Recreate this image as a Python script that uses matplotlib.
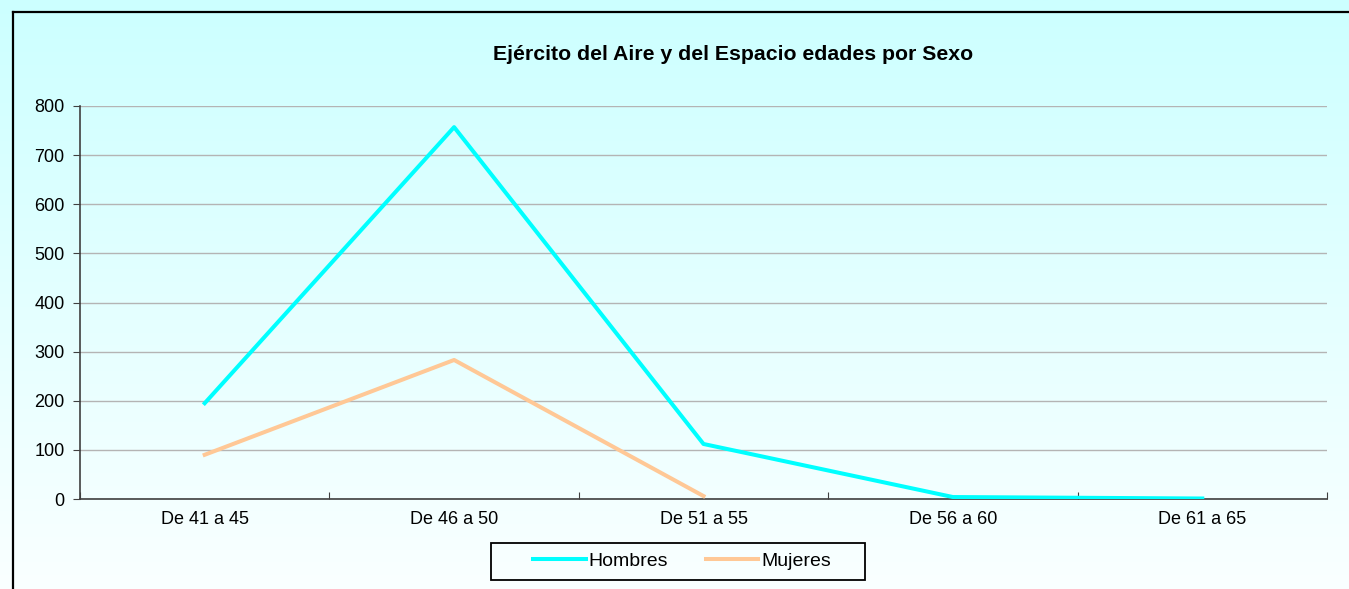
import numpy as np
import matplotlib
matplotlib.use("Agg")
import matplotlib.pyplot as plt
from matplotlib.lines import Line2D
from matplotlib.patches import Rectangle
from matplotlib.ticker import FixedLocator, MultipleLocator

plt.rcParams['font.family'] = ['Liberation Sans', 'DejaVu Sans']

# Datos
categorias = ["De 41 a 45", "De 46 a 50", "De 51 a 55", "De 56 a 60", "De 61 a 65"]
hombres = [195, 757, 112, 4, 1]
mujeres = [90, 283, 6]
titulo = "Ejército del Aire y del Espacio edades por Sexo"

W, H = 1349, 589
fig = plt.figure(figsize=(W / 100, H / 100), dpi=100)

# Fondo degradado (cian claro arriba -> casi blanco abajo)
bg = fig.add_axes([0, 0, 1, 1])
top = np.array([204, 255, 255]) / 255
bot = np.array([250, 255, 255]) / 255
t = np.linspace(0, 1, 256)[:, None]
grad = top[None, :] * (1 - t) + bot[None, :] * t
bg.imshow(grad[:, None, :], aspect='auto', extent=[0, 1, 0, 1])
bg.set_xlim(0, 1)
bg.set_ylim(0, 1)
bg.axis('off')

# Borde del gráfico (arriba e izquierda)
fig.add_artist(Line2D([13 / W, 1], [1 - 12 / H, 1 - 12 / H], color='black', lw=1.6))
fig.add_artist(Line2D([13 / W, 13 / W], [0, 1 - 12 / H], color='black', lw=1.6))

# Área de trazado
x0, x1, y0, y1 = 80, 1327, 106, 499
ax = fig.add_axes([x0 / W, 1 - y1 / H, (x1 - x0) / W, (y1 - y0) / H])
ax.set_facecolor('none')

x = np.arange(len(categorias))
ax.plot(x, hombres, color='#00ffff', lw=2.9, label='Hombres', zorder=3)
ax.plot(x[:len(mujeres)], mujeres, color='#ffc896', lw=2.9, label='Mujeres', zorder=3)

ax.set_xlim(-0.5, len(categorias) - 0.5)
ax.set_ylim(0, 800)
ax.yaxis.set_major_locator(MultipleLocator(100))
ax.grid(axis='y', color='#b4b4b4', lw=1)
ax.set_axisbelow(True)

for s in ['top', 'right']:
    ax.spines[s].set_visible(False)
for s in ['left', 'bottom']:
    ax.spines[s].set_color('#404040')
    ax.spines[s].set_linewidth(1.2)

ax.xaxis.set_major_locator(FixedLocator(np.arange(-0.5, len(categorias), 1)))
ax.xaxis.set_minor_locator(FixedLocator(x))
ax.set_xticklabels([], minor=False)
ax.set_xticklabels(categorias, minor=True)
ax.tick_params(axis='x', which='major', direction='in', length=5, color='#404040')
ax.tick_params(axis='x', which='minor', length=0, pad=9, labelsize=13)
ax.tick_params(axis='y', direction='out', length=5, color='#404040', labelsize=13, pad=6)

fig.text(733 / W, 1 - 54 / H, titulo, ha='center', va='center',
         fontsize=15.3, fontweight='bold')

# Leyenda
fig.add_artist(Rectangle((491 / W, 1 - 580 / H), (865 - 491) / W, 37 / H,
                         transform=fig.transFigure, fill=False,
                         edgecolor='black', lw=1.3))
fig.legend(loc='center', bbox_to_anchor=(682 / W, 1 - 561 / H), ncol=2,
           frameon=False, fontsize=14, handlelength=2.7, handletextpad=0.15,
           columnspacing=1.95)

fig.savefig('out.png', dpi=100)
